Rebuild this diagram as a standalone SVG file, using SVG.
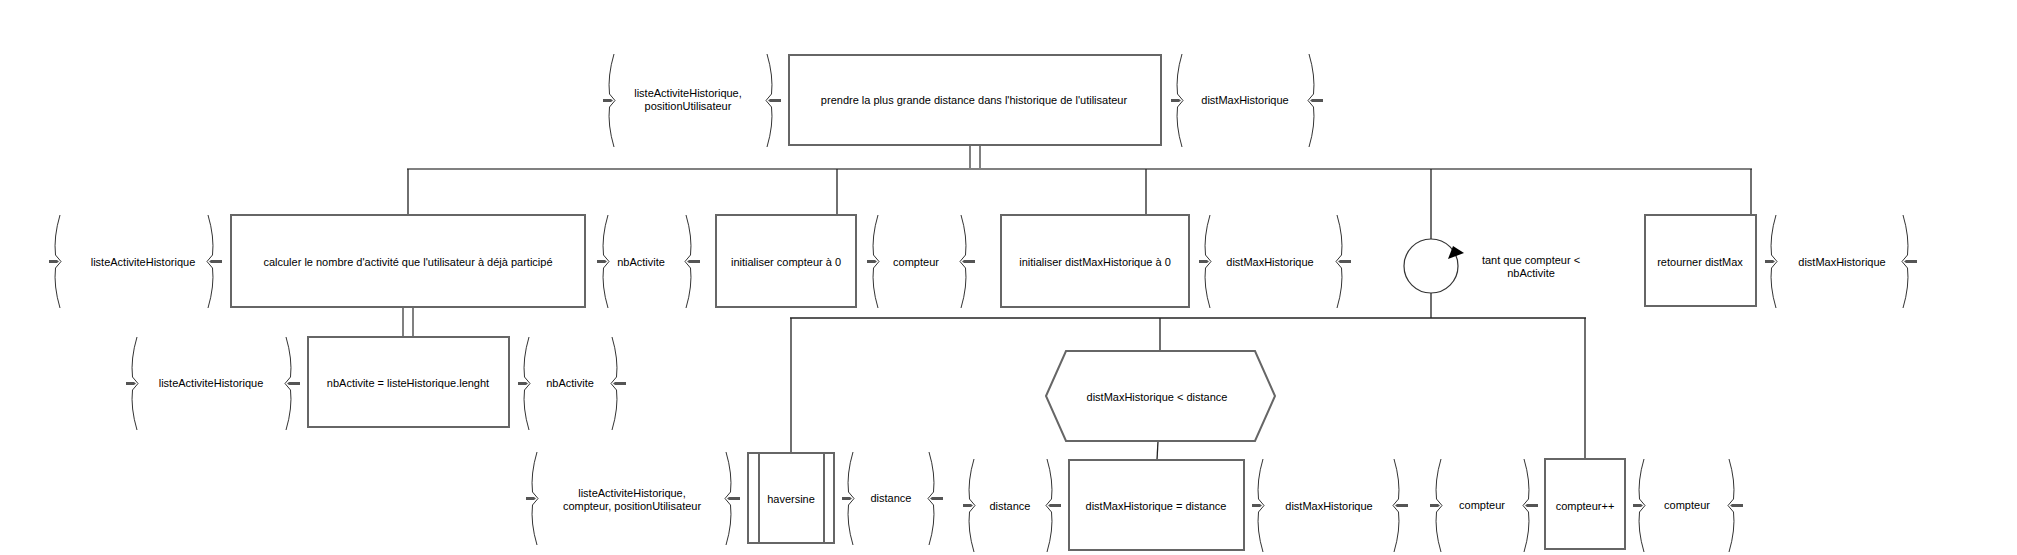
<svg xmlns="http://www.w3.org/2000/svg" width="2017" height="555" viewBox="0 0 2017 555">
<style>
  text { font-family: "Liberation Sans", Arial, sans-serif; font-size: 11px; fill: #000; text-anchor: middle; }
  .box { fill: #fff; stroke: #666; stroke-width: 2; }
  .brace { fill: none; stroke: #333; stroke-width: 1; }
  .mark { fill: #555; stroke: none; }
  .bar { fill: none; stroke: #808080; stroke-width: 2; }
  .wire { fill: none; stroke: #222; stroke-width: 1.3; }
  .dbl { fill: #fff; stroke: #808080; stroke-width: 2; }
  .loop { fill: #fff; stroke: #333; stroke-width: 1.2; }
</style>
<defs>
  <g id="bL">
    <path class="brace" d="M5,0 Q-1.5,22 0.5,40 L6,46.5 L0.5,53 Q-1.5,71 5,93"/>
    <polygon class="mark" points="-6,45 2,45 4,46.5 2,48 -6,48"/>
  </g>
  <g id="bR">
    <path class="brace" d="M-5,0 Q1.5,22 -0.5,40 L-6,46.5 L-0.5,53 Q1.5,71 -5,93"/>
    <polygon class="mark" points="-4,46.5 -2,45 9,45 9,48 -2,48"/>
  </g>
</defs>

<g id="connectors">
  <rect class="dbl" x="970" y="145" width="10" height="24"/>
  <line class="bar" x1="407" y1="169" x2="1752" y2="169"/>
  <line class="wire" x1="408" y1="169" x2="408" y2="215"/>
  <line class="wire" x1="837" y1="169" x2="837" y2="215"/>
  <line class="wire" x1="1146" y1="169" x2="1146" y2="215"/>
  <line class="wire" x1="1431" y1="169" x2="1431" y2="239"/>
  <line class="wire" x1="1751" y1="169" x2="1751" y2="215"/>
  <rect class="dbl" x="403" y="307" width="10" height="30"/>
  <line class="wire" x1="1431" y1="293" x2="1431" y2="318"/>
  <line class="wire" x1="790" y1="318" x2="1586" y2="318"/>
  <line class="wire" x1="791" y1="318" x2="791" y2="453"/>
  <line class="wire" x1="1160" y1="318" x2="1160" y2="351"/>
  <line class="wire" x1="1585" y1="318" x2="1585" y2="459"/>
  <line class="wire" x1="1158" y1="441" x2="1157" y2="460"/>
</g>

<g id="n-main">
  <use href="#bL" x="609" y="54"/>
  <text x="688" y="97">listeActiviteHistorique,</text>
  <text x="688" y="110">positionUtilisateur</text>
  <use href="#bR" x="772" y="54"/>
  <rect class="box" x="789" y="55" width="372" height="90"/>
  <text x="974" y="104">prendre la plus grande distance dans l'historique de l'utilisateur</text>
  <use href="#bL" x="1177" y="54"/>
  <text x="1245" y="104">distMaxHistorique</text>
  <use href="#bR" x="1314" y="54"/>
</g>

<g id="n-calculer">
  <use href="#bL" x="55" y="215"/>
  <text x="143" y="266">listeActiviteHistorique</text>
  <use href="#bR" x="213" y="215"/>
  <rect class="box" x="231" y="215" width="354" height="92"/>
  <text x="408" y="266">calculer le nombre d'activité que l'utilisateur à déjà participé</text>
  <use href="#bL" x="603" y="215"/>
  <text x="641" y="266">nbActivite</text>
  <use href="#bR" x="691" y="215"/>
</g>

<g id="n-init-compteur">
  <rect class="box" x="716" y="215" width="140" height="92"/>
  <text x="786" y="266">initialiser compteur à 0</text>
  <use href="#bL" x="873" y="215"/>
  <text x="916" y="266">compteur</text>
  <use href="#bR" x="966" y="215"/>
</g>

<g id="n-init-dist">
  <rect class="box" x="1001" y="215" width="188" height="92"/>
  <text x="1095" y="266">initialiser distMaxHistorique à 0</text>
  <use href="#bL" x="1205" y="215"/>
  <text x="1270" y="266">distMaxHistorique</text>
  <use href="#bR" x="1342" y="215"/>
</g>

<g id="n-loop">
  <circle class="loop" cx="1431" cy="266" r="27"/>
  <polygon points="1448,259 1464,253 1453,246" fill="#000"/>
  <text x="1531" y="264">tant que compteur &lt;</text>
  <text x="1531" y="277">nbActivite</text>
</g>

<g id="n-retourner">
  <rect class="box" x="1645" y="215" width="111" height="91"/>
  <text x="1700" y="266">retourner distMax</text>
  <use href="#bL" x="1771" y="215"/>
  <text x="1842" y="266">distMaxHistorique</text>
  <use href="#bR" x="1908" y="215"/>
</g>

<g id="n-length">
  <use href="#bL" x="132" y="337"/>
  <text x="211" y="387">listeActiviteHistorique</text>
  <use href="#bR" x="291" y="337"/>
  <rect class="box" x="308" y="337" width="201" height="90"/>
  <text x="408" y="387">nbActivite = listeHistorique.lenght</text>
  <use href="#bL" x="524" y="337"/>
  <text x="570" y="387">nbActivite</text>
  <use href="#bR" x="617" y="337"/>
</g>

<g id="n-haversine">
  <use href="#bL" x="532" y="452"/>
  <text x="632" y="497">listeActiviteHistorique,</text>
  <text x="632" y="510">compteur, positionUtilisateur</text>
  <use href="#bR" x="731" y="452"/>
  <rect class="box" x="748" y="453" width="86" height="90"/>
  <line class="box" x1="759" y1="453" x2="759" y2="543"/>
  <line class="box" x1="824" y1="453" x2="824" y2="543"/>
  <text x="791" y="503">haversine</text>
  <use href="#bL" x="848" y="452"/>
  <text x="891" y="502">distance</text>
  <use href="#bR" x="934" y="452"/>
</g>

<g id="n-condition">
  <polygon class="box" points="1046,396 1066,351 1255,351 1275,396 1255,441 1066,441"/>
  <text x="1157" y="401">distMaxHistorique &lt; distance</text>
</g>

<g id="n-assign">
  <use href="#bL" x="969" y="459"/>
  <text x="1010" y="510">distance</text>
  <use href="#bR" x="1052" y="459"/>
  <rect class="box" x="1069" y="460" width="175" height="90"/>
  <text x="1156" y="510">distMaxHistorique = distance</text>
  <use href="#bL" x="1258" y="459"/>
  <text x="1329" y="510">distMaxHistorique</text>
  <use href="#bR" x="1399" y="459"/>
</g>

<g id="n-increment">
  <use href="#bL" x="1436" y="459"/>
  <text x="1482" y="509">compteur</text>
  <use href="#bR" x="1529" y="459"/>
  <rect class="box" x="1545" y="459" width="80" height="90"/>
  <text x="1585" y="510">compteur++</text>
  <use href="#bL" x="1639" y="459"/>
  <text x="1687" y="509">compteur</text>
  <use href="#bR" x="1734" y="459"/>
</g>
</svg>
